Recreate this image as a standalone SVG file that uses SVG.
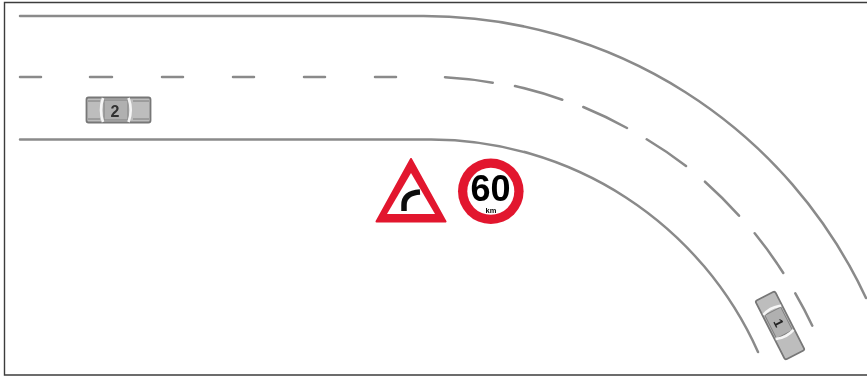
<svg xmlns="http://www.w3.org/2000/svg" width="867" height="378" viewBox="0 0 867 378">
<defs><filter id="soft" x="-5%" y="-5%" width="110%" height="110%"><feGaussianBlur stdDeviation="0.45"/></filter></defs>
<style>
.road{fill:none;stroke:#8a8a8a;stroke-width:2.5;stroke-linecap:round}
.dash{fill:none;stroke:#8a8a8a;stroke-width:2.5;stroke-linecap:round}
.frame{fill:none;stroke:#3c3c3c;stroke-width:1.4}
.body{fill:#bdbdbd;stroke:#777;stroke-width:1.8}
.cab{fill:#b0b0b0;stroke:#808080;stroke-width:1}
.trim{fill:none;stroke:#7c7c7c;stroke-width:1}
.glass{fill:none;stroke:#f6f6f6;stroke-width:2.6}
.carnum{font:bold 16px "Liberation Sans",Arial,sans-serif;fill:#333;text-anchor:middle}
.carnum1{font:bold 13px "Liberation Sans",Arial,sans-serif;fill:#222;text-anchor:middle}
.red{fill:#e2162f}
.sym{font-family:"Liberation Sans",Arial,sans-serif;font-weight:bold;fill:#050505;text-anchor:middle}
</style>
<rect width="867" height="378" fill="#fff"/>
<path class="frame" d="M867 2.500H4.500V375H867"/>
<g filter="url(#soft)">
<g id="connectors">
<path class="road" d="M20 16H422.500A488 488 0 0 1 866 298"/>
<path class="road" d="M20 139.500H431A358.700 358.700 0 0 1 758 352"/>
<path class="dash" d="M20 77H41M90 77H112M162 77H183M233 77H254M304 77H325M375 77H396M445 77.300A425 425 0 0 1 492.700 82.700M515 86A425 425 0 0 1 562.300 99.700M583.300 107A425 425 0 0 1 627 128M646.700 139.300A425 425 0 0 1 686 166M705 181.700A425 425 0 0 1 739 215.700M754.700 233.300A425 425 0 0 1 783.300 273M795.300 293.300A425 425 0 0 1 812.300 325.700"/>
</g>
<g id="car-2">
<rect class="body" x="86.500" y="97.500" width="64" height="25" rx="2"/>
<path class="trim" d="M88 101H100M88 119H100M133 101H149M133 119H149"/>
<rect class="cab" x="104" y="100" width="24" height="20"/>
<path class="glass" d="M103 98Q99 110 103 122M128.500 98Q133 110 128.500 122"/>
<text class="carnum" x="115" y="116.500">2</text>
</g>
<g id="car-1" transform="translate(780 325.500) rotate(63)">
<rect class="body" x="-33" y="-11" width="66" height="22" rx="2"/>
<rect class="cab" x="-16" y="-9" width="26" height="18"/>
<path class="glass" d="M-17 -10Q-21 0 -17 10M10 -10Q14 0 10 10"/>
<text class="carnum1" x="-3" y="4.500">1</text>
</g>
<g id="sign-curve">
<path class="red" d="M411 159 445.500 221.500H376.500Z" stroke="#e2162f" stroke-width="2" stroke-linejoin="round"/>
<path d="M411 173 435 214H387Z" fill="#fff"/>
<path d="M404 211V205Q404 193 420 192" fill="none" stroke="#111" stroke-width="5.500"/>
</g>
<g id="sign-speed">
<circle class="red" cx="490.800" cy="191.300" r="32.800"/>
<circle cx="490.800" cy="191.300" r="23.500" fill="#fff"/>
<text class="sym" x="490.500" y="201" font-size="36">60</text>
<text class="sym" x="491" y="213" font-size="7.500">km</text>
</g>
</g>
</svg>
